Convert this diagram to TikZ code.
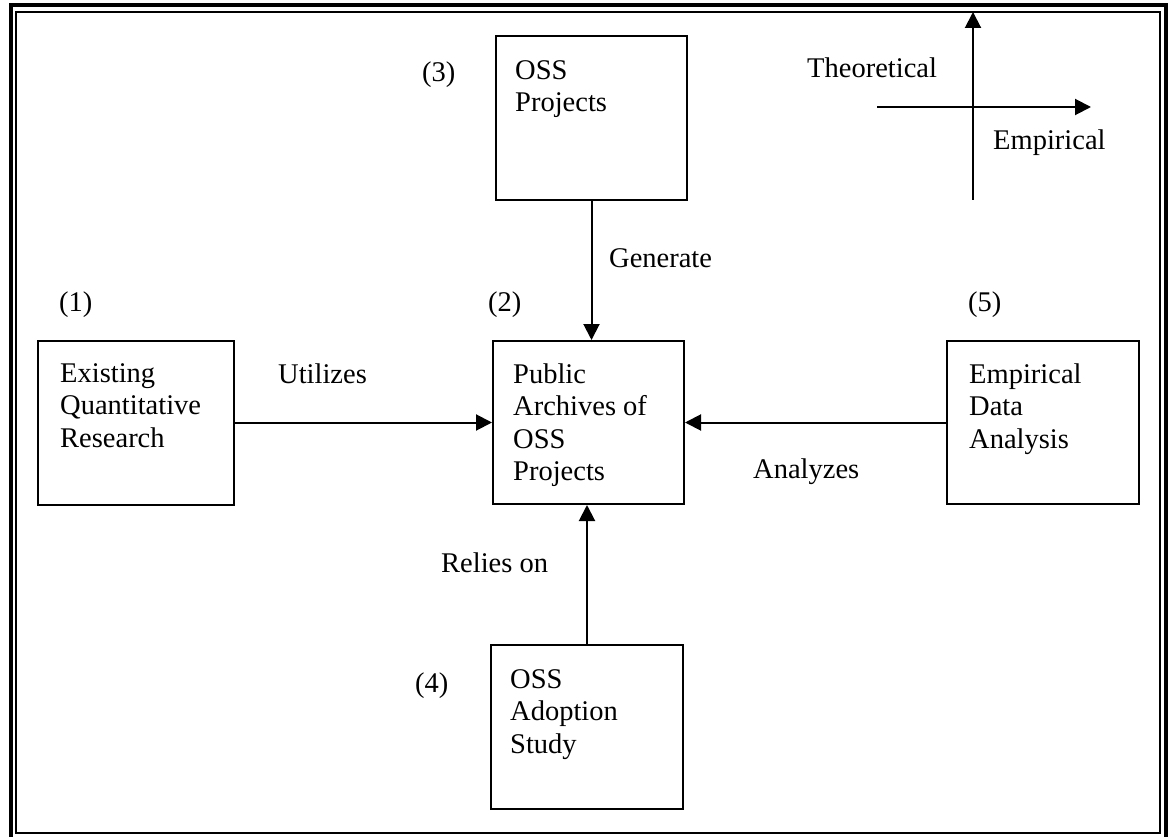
\documentclass[tikz,border=0pt]{standalone}
\usepackage{fontspec}
\setmainfont{Liberation Serif}
\usetikzlibrary{arrows.meta}
\tikzset{
  x=1pt, y=-1pt,
  lbl/.style={font=\fontsize{28.5}{32.5}\selectfont, inner sep=0pt, anchor=base west},
  boxtext/.style={font=\fontsize{28.5}{32.5}\selectfont, inner sep=0pt, anchor=north west, align=left, execute at begin node=\strut},
  boxnode/.style={draw, line width=2pt},
  arr/.style={line width=2pt, -{Triangle[length=16pt,width=16pt]}},
}
\begin{document}
\begin{tikzpicture}
\useasboundingbox (0,0) rectangle (1168,837);
% frame
\draw[line width=4pt] (10.5,5) rectangle (1165.5,840);
\draw[line width=2pt] (16,12) rectangle (1159.5,833);

% boxes
\node[boxnode, minimum width=191pt, minimum height=164pt] (b3) at (591.5,118) {};
\node[boxnode, minimum width=196pt, minimum height=164pt] (b1) at (136,422.5) {};
\node[boxnode, minimum width=191pt, minimum height=163pt] (b2) at (588.5,422.5) {};
\node[boxnode, minimum width=192pt, minimum height=163pt] (b5) at (1043,422.5) {};
\node[boxnode, minimum width=192pt, minimum height=164pt] (b4) at (587,727) {};

% box texts
\node[boxtext] (t3) at (515,60.25) {OSS\\Projects};
\node[boxtext] (t1) at (60,363.25) {Existing\\Quantitative\\Research};
\node[boxtext] (t2) at (513,363.25) {Public\\Archives of\\OSS\\Projects};
\node[boxtext] (t5) at (969,363.25) {Empirical\\Data\\Analysis};
\node[boxtext] (t4) at (510,669.25) {OSS\\Adoption\\Study};

% numbers
\node[lbl] (n3) at (422,82) {(3)};
\node[lbl] (n1) at (59,312) {(1)};
\node[lbl] (n2) at (488,312) {(2)};
\node[lbl] (n5) at (968,312) {(5)};
\node[lbl] (n4) at (415,692) {(4)};

% connector labels
\node[lbl] (lg) at (609,268) {Generate};
\node[lbl] (lu) at (278,383) {Utilizes};
\node[lbl] (la) at (753,478) {Analyzes};
\node[lbl] (lr) at (441,572) {Relies on};

% connectors
\draw[arr] (b3.south) -- (b3.south |- b2.north);
\draw[arr] (b1.east) -- (b2.west);
\draw[arr] (b5.west) -- (b2.east);
\draw[arr] (b4.north) -- (b4.north |- b2.south);

% axes
\coordinate (vb) at (973,200);
\coordinate (vt) at (973,12);
\coordinate (hl) at (877,107);
\coordinate (hr) at (1091,107);
\draw[arr] (vb) -- (vt);
\draw[arr] (hl) -- (hr);
\node[lbl] (lt) at (807,78) {Theoretical};
\node[lbl] (le) at (993,150) {Empirical};
\end{tikzpicture}
\end{document}
